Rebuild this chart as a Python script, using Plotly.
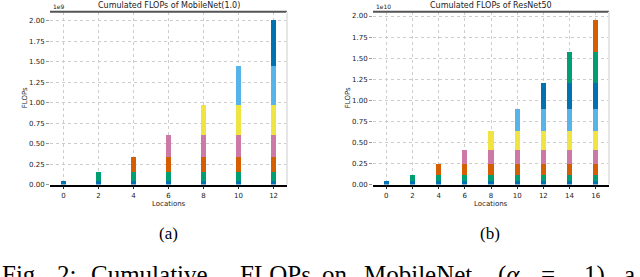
import plotly.graph_objects as go

# ---------------- data ----------------
mobilenet_locations = [0, 2, 4, 6, 8, 10, 12]
# FLOPs added by each stage (units of 1e9); stage i appears at locations >= 2*i
mobilenet_stage_flops = [0.040, 0.119, 0.180, 0.271, 0.362, 0.478, 0.558]

resnet_locations = [0, 2, 4, 6, 8, 10, 12, 14, 16]
# FLOPs added by each stage (units of 1e10)
resnet_stage_flops = [0.043, 0.077, 0.128, 0.163, 0.225, 0.263, 0.314, 0.361, 0.379]

palette = ["#0072B2", "#009E73", "#D55E00", "#CC79A7", "#F0E442", "#56B4E9"]

W, H = 640, 277
fig = go.Figure()

def add_stack(locs, stages, xa, ya, width):
    for i, v in enumerate(stages):
        xs = [x for x in locs if x >= 2 * i]
        fig.add_trace(go.Bar(
            x=xs, y=[v] * len(xs), width=width,
            marker=dict(color=palette[i % len(palette)], line=dict(width=0)),
            xaxis=xa, yaxis=ya, showlegend=False, hoverinfo="skip",
        ))

add_stack(mobilenet_locations, mobilenet_stage_flops, "x", "y", 0.3)
add_stack(resnet_locations, resnet_stage_flops, "x2", "y2", 0.4)

def px(x):
    return x / W

def py(y):
    return 1 - y / H

tick_font = dict(family="DejaVu Sans", size=7, color="#222")
grid = dict(showgrid=True, gridcolor="#cccccc", griddash="dot", gridwidth=1)

y_top, y_bot = 12, 187.3
axes = [
    dict(xd=(50, 287), xr=[-0.765, 12.765], xt=mobilenet_locations, yr=[0, 2.108]),
    dict(xd=(373, 609), xr=[-1.02, 17.02], xt=resnet_locations, yr=[0, 2.05]),
]
yticks = [0, 0.25, 0.5, 0.75, 1.0, 1.25, 1.5, 1.75, 2.0]

for k, a in enumerate(axes):
    sx = "" if k == 0 else "2"
    fig.layout["xaxis" + sx] = dict(
        domain=[px(a["xd"][0]), px(a["xd"][1])], range=a["xr"], anchor="y" + sx,
        tickvals=a["xt"], ticktext=[str(v) for v in a["xt"]],
        ticks="outside", ticklen=3, tickcolor="#222", tickwidth=1,
        showline=True, linecolor="black", linewidth=1.5,
        tickfont=tick_font, zeroline=False, fixedrange=True, **grid,
    )
    fig.layout["yaxis" + sx] = dict(
        domain=[py(y_bot), py(y_top)], range=a["yr"], anchor="x" + sx,
        tickvals=yticks, ticktext=[f"{v:.2f}" for v in yticks],
        ticks="outside", ticklen=3, tickcolor="#999", tickwidth=1,
        showline=False, tickfont=tick_font, zeroline=False, fixedrange=True, **grid,
    )
    # top spine (dark) and right spine (light)
    fig.add_shape(type="line", xref="paper", yref="paper",
                  x0=px(a["xd"][0]), x1=px(a["xd"][1]), y0=py(y_top), y1=py(y_top),
                  line=dict(color="#555", width=2))
    fig.add_shape(type="line", xref="paper", yref="paper",
                  x0=px(a["xd"][1]), x1=px(a["xd"][1]), y0=py(y_top), y1=py(y_bot),
                  line=dict(color="#e6e6e6", width=2))

small = dict(family="DejaVu Sans", size=7, color="#222")
titles = ["Cumulated FLOPs of MobileNet(1.0)", "Cumulated FLOPs of ResNet50"]
exps = ["1e9", "1e10"]
for k, a in enumerate(axes):
    cx = (a["xd"][0] + a["xd"][1]) / 2
    fig.add_annotation(text=titles[k], x=px(cx), y=py(5.5), xref="paper", yref="paper",
                       showarrow=False, font=dict(family="DejaVu Sans", size=8, color="#222"),
                       xanchor="center", yanchor="middle")
    fig.add_annotation(text=exps[k], x=px(a["xd"][0] + 1), y=py(6.5), xref="paper", yref="paper",
                       showarrow=False, font=dict(family="DejaVu Sans", size=6, color="#222"),
                       xanchor="left", yanchor="middle")
    fig.add_annotation(text="Locations", x=px(cx), y=py(207), xref="paper", yref="paper",
                       showarrow=False, font=small, xanchor="center", yanchor="middle")
    fig.add_annotation(text="FLOPs", x=px(a["xd"][0] - 25), y=py((y_top + y_bot) / 2),
                       xref="paper", yref="paper", textangle=-90,
                       showarrow=False, font=small, xanchor="center", yanchor="middle")

serif = dict(family="Liberation Serif", size=17, color="black")
fig.add_annotation(text="(a)", x=px(168), y=py(237), xref="paper", yref="paper",
                   showarrow=False, font=serif, xanchor="center", yanchor="middle")
fig.add_annotation(text="(b)", x=px(490), y=py(237), xref="paper", yref="paper",
                   showarrow=False, font=serif, xanchor="center", yanchor="middle")

caption_words = ["Fig.", "2:", "Cumulative", "FLOPs", "on", "MobileNet", "(<i>α</i>", "=", "1)", "a"]
caption_x = [0, 55, 89, 238, 320, 362, 496, 539, 582, 622]
for wd, xx in zip(caption_words, caption_x):
    fig.add_annotation(text=wd, x=px(xx), y=py(279), xref="paper", yref="paper",
                       showarrow=False, font=dict(family="Liberation Serif", size=25, color="black"),
                       xanchor="left", yanchor="middle")

fig.update_layout(
    width=W, height=H, margin=dict(l=0, r=0, t=0, b=0),
    barmode="stack", bargap=0,
    plot_bgcolor="white", paper_bgcolor="white",
)

fig.write_html("out.html", config={"displayModeBar": False},
               post_script="document.body.style.margin='0';document.body.style.overflow='hidden';")
